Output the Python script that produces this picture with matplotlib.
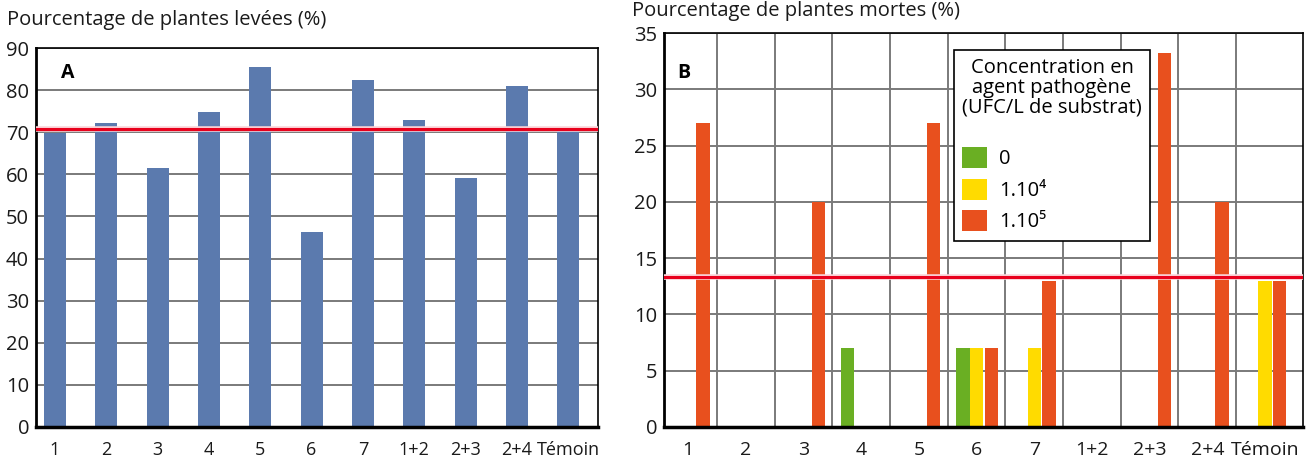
import matplotlib.pyplot as plt
import numpy as np

categories = ["1", "2", "3", "4", "5", "6", "7", "1+2", "2+3", "2+4", "Témoin"]

# A : pourcentage de plantes levées
levees = [69.8, 72.2, 61.4, 74.8, 85.4, 46.2, 82.5, 72.9, 59.2, 81.0, 70.6]
ref_levees = 70.7

# B : pourcentage de plantes mortes selon la concentration
mortes_0 = [0, 0, 0, 7, 0, 7, 0, 0, 0, 0, 0]
mortes_1e4 = [0, 0, 0, 0, 0, 7, 7, 0, 0, 0, 13]
mortes_1e5 = [27, 0, 20, 0, 27, 7, 13, 0, 33.2, 20, 13]
ref_mortes = 13.3

plt.rcParams['font.family'] = ['Open Sans', 'DejaVu Sans']

blue = '#5b7aae'
green = '#6aaf23'
yellow = '#ffdb00'
orange = '#e8501e'
red = '#e8001c'
grid_col = '#7a7a7a'

fig = plt.figure(figsize=(13.14, 4.66), dpi=100)
axA = fig.add_axes([36 / 1314, 1 - 427 / 466, (598 - 36) / 1314, (427 - 48) / 466])
axB = fig.add_axes([664 / 1314, 1 - 427 / 466, (1303 - 664) / 1314, (427 - 33) / 466])

x = np.arange(len(categories))


def style_axes(ax, xsize):
    for side in ['top', 'right']:
        ax.spines[side].set_linewidth(1.2)
        ax.spines[side].set_color('black')
    ax.spines['left'].set_linewidth(2.0)
    ax.spines['bottom'].set_linewidth(2.5)
    ax.tick_params(axis='both', length=0, labelsize=14.5, colors='#1a1a1a')
    ax.tick_params(axis='x', pad=10, labelsize=xsize)
    ax.tick_params(axis='y', pad=5)
    ax.set_axisbelow(True)


def ref_line(ax, y):
    ax.axhline(y, color='#fbd3d8', lw=4.0, zorder=3)
    ax.axhline(y, color=red, lw=2.2, zorder=4)


# --- Graphique A ---
axA.bar(x, levees, width=0.43, color=blue, zorder=2)
ref_line(axA, ref_levees)
axA.set_xlim(-0.37, 10.58)
axA.set_ylim(0, 90)
axA.set_yticks(range(0, 91, 10))
axA.set_xticks(x)
axA.set_xticklabels(categories)
axA.yaxis.grid(True, color=grid_col, lw=1.4)
style_axes(axA, 13)
axA.text(0.045, 0.934, "A", transform=axA.transAxes, fontsize=14,
         fontweight='bold', va='center', ha='left')
fig.text(7 / 1314, 1 - 20 / 466, "Pourcentage de plantes levées (%)",
         fontsize=14.5, va='center', ha='left', color='#1a1a1a')

# --- Graphique B ---
w = 0.23
b0 = axB.bar(x - 0.235, mortes_0, width=w, color=green, zorder=2, label="0")
b1 = axB.bar(x, mortes_1e4, width=w, color=yellow, zorder=2, label="1.10⁴")
b2 = axB.bar(x + 0.255, mortes_1e5, width=w, color=orange, zorder=2, label="1.10⁵")
ref_line(axB, ref_mortes)
axB.set_xlim(-0.42, 10.66)
axB.set_ylim(0, 35)
axB.set_yticks(range(0, 36, 5))
axB.set_xticks(x)
axB.set_xticklabels(categories)
axB.set_xticks(x[:-1] + 0.5, minor=True)
axB.tick_params(axis='x', which='minor', length=0)
axB.yaxis.grid(True, color=grid_col, lw=1.4)
axB.xaxis.grid(True, which='minor', color=grid_col, lw=1.4)
style_axes(axB, 14)
axB.text(0.02, 0.898, "B", transform=axB.transAxes, fontsize=14,
         fontweight='bold', va='center', ha='left')
fig.text(632 / 1314, 1 - 11 / 466, "Pourcentage de plantes mortes (%)",
         fontsize=14.5, va='center', ha='left', color='#1a1a1a')

leg = axB.legend(handles=[b0, b1, b2],
                 title="Concentration en\nagent pathogène\n(UFC/L de substrat)\n",
                 loc='upper left', bbox_to_anchor=(0.454, 0.957),
                 fontsize=14.5, title_fontsize=14.5, frameon=True, fancybox=False,
                 edgecolor='black', framealpha=1, handlelength=1.25,
                 handleheight=1.25, handletextpad=0.6, labelspacing=0.45,
                 borderpad=0.4, borderaxespad=0)
leg.get_frame().set_linewidth(1.2)
leg._legend_box.align = "left"
leg.get_title().set_multialignment('center')
leg.get_title().set_linespacing(1.0)
leg.set_zorder(10)

fig.savefig("out.png", dpi=100)
